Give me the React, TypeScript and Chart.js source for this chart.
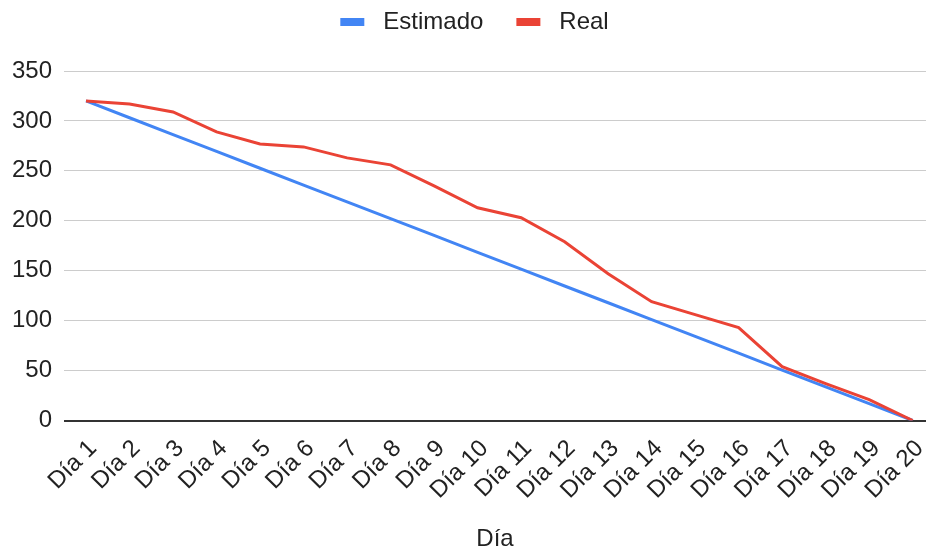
import { useEffect, useRef } from 'react';
import { Chart, registerables } from 'chart.js';

Chart.register(...registerables);

// Burndown: estimated vs. real remaining work per day
const dayLabels = [
  'Día 1', 'Día 2', 'Día 3', 'Día 4', 'Día 5', 'Día 6', 'Día 7', 'Día 8', 'Día 9', 'Día 10',
  'Día 11', 'Día 12', 'Día 13', 'Día 14', 'Día 15', 'Día 16', 'Día 17', 'Día 18', 'Día 19', 'Día 20',
];

const estimado = [
  320, 303.2, 286.3, 269.5, 252.6, 235.8, 218.9, 202.1, 185.3, 168.4,
  151.6, 134.7, 117.9, 101.1, 84.2, 67.4, 50.5, 33.7, 16.8, 0,
];

const real = [
  320, 317, 309, 289, 277, 274, 263, 256, 235, 213,
  203, 179, 147, 119, 106, 93, 54, 37, 21, 0,
];

const yMin = 0;
const yMax = 350;
const yStep = 50;

const seriesNames = ['Estimado', 'Real'];
const seriesColors = ['#4285F4', '#EA4335'];

const FONT = "'Liberation Sans', Arial, sans-serif";
const TEXT = '#222222';
const SIZE = 24;

// Legend swatch: a short bar with transparent lead-in so the gaps match
function makeSwatch(color: string): HTMLCanvasElement {
  const c = document.createElement('canvas');
  c.width = 54;
  c.height = 8;
  const g = c.getContext('2d')!;
  g.fillStyle = color;
  g.fillRect(23, 0, 24, 8);
  return c;
}

// Extra space between the legend and the plot
const legendGap = {
  id: 'legendGap',
  beforeInit(chart: any) {
    const legend = chart.legend;
    if (!legend) return;
    const fit = legend.fit;
    legend.fit = function () {
      fit.call(this);
      this.height += 27;
    };
  },
};

export default function App() {
  const ref = useRef<HTMLCanvasElement | null>(null);

  useEffect(() => {
    if (!ref.current) return;
    const swatches = seriesColors.map(makeSwatch);

    const chart = new Chart(ref.current, {
      type: 'line',
      data: {
        datasets: [
          {
            label: seriesNames[0],
            data: estimado.map((v, i) => ({ x: i + 1, y: v })),
            borderColor: seriesColors[0],
            backgroundColor: seriesColors[0],
            borderWidth: 3,
            pointRadius: 0,
            tension: 0,
            order: 1,
          },
          {
            label: seriesNames[1],
            data: real.map((v, i) => ({ x: i + 1, y: v })),
            borderColor: seriesColors[1],
            backgroundColor: seriesColors[1],
            borderWidth: 3,
            pointRadius: 0,
            tension: 0,
            order: 0,
          },
        ],
      },
      options: {
        responsive: false,
        animation: false,
        layout: { padding: 0 },
        plugins: {
          tooltip: { enabled: false },
          legend: {
            position: 'top',
            align: 'center',
            labels: {
              font: { family: FONT, size: SIZE },
              color: TEXT,
              padding: 10,
              usePointStyle: true,
              pointStyleWidth: 54,
              boxHeight: 8,
              sort: (a: any, b: any) => a.datasetIndex - b.datasetIndex,
              generateLabels: (c: any) =>
                Chart.defaults.plugins.legend.labels
                  .generateLabels(c)
                  .map((l: any) => ({ ...l, pointStyle: swatches[l.datasetIndex] })),
            },
          },
        },
        scales: {
          x: {
            type: 'linear',
            min: 0.494,
            max: 20.306,
            grid: { display: false },
            border: { display: false },
            afterBuildTicks: (scale: any) => {
              scale.ticks = dayLabels.map((_, i) => ({ value: i + 1 }));
            },
            afterFit: (scale: any) => {
              scale.height = 129.5;
              scale.paddingLeft = 0;
              scale.paddingRight = 0;
            },
            ticks: {
              autoSkip: false,
              minRotation: 45,
              maxRotation: 45,
              padding: 6,
              labelOffset: 7,
              font: { family: FONT, size: SIZE },
              color: TEXT,
              callback: (value: any) => dayLabels[Math.round(Number(value)) - 1] ?? '',
            },
            title: {
              display: true,
              text: 'Día',
              font: { family: FONT, size: SIZE },
              color: TEXT,
              padding: { top: 0, bottom: -4 },
            },
          },
          y: {
            min: yMin,
            max: yMax,
            border: { display: false },
            grid: {
              drawTicks: false,
              color: (ctx: any) => (ctx.tick && ctx.tick.value === 0 ? '#333333' : '#cccccc'),
              lineWidth: (ctx: any) => (ctx.tick && ctx.tick.value === 0 ? 2 : 1),
            },
            afterFit: (scale: any) => {
              scale.width = 64;
            },
            ticks: {
              stepSize: yStep,
              padding: 12,
              font: { family: FONT, size: SIZE },
              color: TEXT,
            },
          },
        },
      },
      plugins: [legendGap],
    });

    return () => chart.destroy();
  }, []);

  return (
    <div style={{ position: 'fixed', left: 0, top: 0, width: 926, height: 550, background: '#ffffff' }}>
      <canvas ref={ref} width={926} height={550} style={{ display: 'block' }} />
    </div>
  );
}
